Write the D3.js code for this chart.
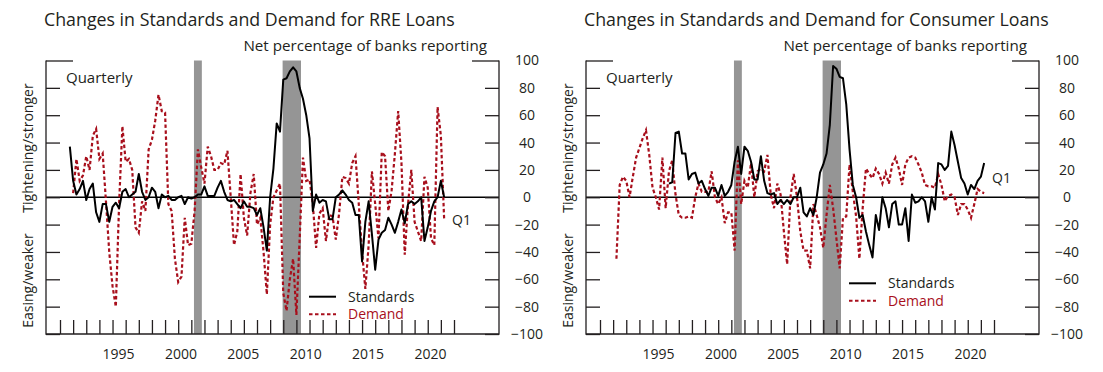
<!DOCTYPE html>
<html>
<head>
<meta charset="utf-8">
<script src="https://cdn.jsdelivr.net/npm/d3@7"></script>
<style>
  body { margin: 0; background: #fff; }
  text { font-family: "Open Sans", sans-serif; fill: #231f20; }
</style>
</head>
<body>
<svg id="chart" width="1103" height="372"></svg>
<script>
// first observation sits at this spot of the year scale, then one point per quarter
var firstQuarter = 1991.75;

var rreStandards = [37, 12, 2, 6, 12, -2, 6, 10, -11, -18,
  -5, -5, -18, -7, -4, -8, 4, 6, 0, 2,
  4, 17, 4, -2, 0, 7, 4, -8, 2, 0,
  1, -2, -2, 0, 1, -5, 0, -1, 0, 2,
  2, 8, 1, 1, 1, 7, 12, 4, -2, -3,
  -2, -5, -8, -3, -7, -7, -8, -13, -8, -22,
  -39, 0, 21, 54, 48, 86, 87, 92, 95, 92,
  80, 72, 60, 43, -10, 2, -4, -2, -3, -16,
  -16, 0, 2, 5, 2, -2, -4, -13, -13, -47,
  -18, -3, -27, -53, -31, -26, -24, -15, -20, -26,
  -18, -9, -19, -5, -3, -5, -3, 0, -32, -22,
  -10, -3, 0, 12, 0];

var rreDemand = [null, 3, 28, 12, 16, 30, 20, 45, 50, 28,
  32, -3, -40, -65, -80, -5, 52, 26, 28, 20,
  -22, -26, -3, -10, 35, 42, 56, 75, 63, 62,
  -5, -10, -45, -62, -58, -15, -35, -34, -10, 35,
  22, 10, 37, 30, 20, 20, 25, 24, 34, 0,
  -35, -25, 17, -15, -28, 3, 17, -20, -15, -40,
  -71, -20, 0, 5, 10, -70, -83, -60, -45, -86,
  -30, 29, 12, 13, -5, -37, -12, -8, -32, -13,
  -14, -31, -12, 15, 14, 10, 25, 30, -5, -40,
  -67, -35, 19, -5, -30, 33, 30, -10, 5, 32,
  63, 25, -42, -5, 20, -18, -25, -32, 15, 7,
  -30, -35, 66, 45, -16];

var consumerStandards = [null, null, null, null, null, null, null, null, null, null,
  null, null, null, null, null, null, null, null, 10, 11,
  47, 48, 32, 32, 13, 17, 18, 10, 12, 6,
  1, 7, 7, 1, 9, 1, 4, 9, 26, 37,
  17, 37, 34, 26, 13, 13, 30, 12, 3, 2,
  3, -5, -2, -5, -2, -5, 0, 0, 7, -11,
  -14, -8, -13, 0, 18, 24, 32, 53, 96, 94,
  88, 87, 68, 35, 9, 0, -15, -13, -25, -35,
  -44, -13, -24, 0, -8, -22, -5, -3, -20, -20,
  -8, -32, 2, -4, -3, 0, -3, -18, 0, -9,
  25, 24, 20, 23, 48, 38, 26, 14, 10, 2,
  9, 6, 12, 15, 25];

var consumerDemand = [null, null, -45, 9, 15, 12, 0, 15, 29, 36,
  43, 49, 31, 7, 0, -9, 29, -8, 19, 27,
  2, -13, -15, -15, -14, -15, 0, 10, 4, 4,
  4, 19, 0, -5, 0, -19, -11, -11, -39, 27,
  -5, 12, 7, 25, 0, 19, 21, 19, 31, 2,
  -8, 10, 2, -25, -49, 0, 17, 0, -25, -39,
  -39, -52, -5, -13, -22, -37, -13, 9, -8, -30,
  -52, -15, -14, 24, 4, -14, -45, -8, 21, 17,
  14, 21, 17, 10, 18, 10, 24, 29, 21, 9,
  24, 29, 30, 29, 24, 18, 9, 8, 8, 7,
  17, 9, -3, 1, 2, 0, -13, -5, -5, -9,
  -15, -5, 6, 4, 3];

var yearTicks = d3.range(1991, 2022);
var yearLabels = [1995, 2000, 2005, 2010, 2015, 2020];
var valueTicks = [-100, -80, -60, -40, -20, 0, 20, 40, 60, 80, 100];
var recessionStart = [2001.2, 2007.95];
var recessionEnd = [2001.8, 2009.35];

var red = "#a80f1c";
var ink = "#231f20";
var panelWidth = 453;

var svg = d3.select("#chart");

var x = d3.scaleLinear().domain([1991, 2021]).range([14, 408]);
// year labels in the original don't sit exactly under the year ticks
var xLabel = d3.scaleLinear().domain([1995, 2020]).range([72, 384]);
var y = d3.scaleLinear().domain([-100, 100]).range([334, 60.5]);

function drawPanel(left, title, standards, demand, q1, legendY) {
  var g = svg.append("g").attr("transform", "translate(" + left + ",0)");

  g.append("text")
      .attr("x", -2).attr("y", 26)
      .style("font-size", "17.8px")
      .text(title);

  g.append("text")
      .attr("x", 441).attr("y", 51)
      .attr("text-anchor", "end")
      .style("font-size", "15.2px")
      .text("Net percentage of banks reporting");

  //recession shading
  g.selectAll(".recession")
    .data(recessionStart)
    .enter().append("rect")
      .attr("x", function(d) { return x(d); })
      .attr("width", function(d, i) { return x(recessionEnd[i]) - x(d); })
      .attr("y", y(100))
      .attr("height", y(-100) - y(100))
      .attr("fill", "#959595");

  g.append("line")
      .attr("x1", 0).attr("x2", panelWidth)
      .attr("y1", y(0)).attr("y2", y(0))
      .attr("stroke", "#000").attr("stroke-width", 1.3);

  var line = d3.line()
      .defined(function(d) { return d != null; })
      .x(function(d, i) { return x(firstQuarter + i * 0.25); })
      .y(function(d) { return y(d); });

  g.append("path")
      .attr("d", line(demand))
      .attr("fill", "none")
      .attr("stroke", red)
      .attr("stroke-width", 2.2)
      .attr("stroke-dasharray", "3.5,2.5");

  g.append("path")
      .attr("d", line(standards))
      .attr("fill", "none")
      .attr("stroke", "#000")
      .attr("stroke-width", 2)
      .attr("stroke-linejoin", "round");

  //frame
  g.append("path")
      .attr("d", "M0," + y(100) + "V" + y(-100) + "H" + panelWidth + "V" + y(100))
      .attr("fill", "none")
      .attr("stroke", ink)
      .attr("stroke-width", 1.3);

  var leftTicks = g.append("g")
      .call(d3.axisRight(y).tickValues(valueTicks).tickSize(14).tickFormat(""));
  var rightTicks = g.append("g")
      .attr("transform", "translate(" + panelWidth + ",0)")
      .call(d3.axisLeft(y).tickValues(valueTicks).tickSize(14).tickFormat(""));
  [leftTicks, rightTicks].forEach(function(a) {
    a.select(".domain").remove();
    a.selectAll("line").attr("stroke", ink).attr("stroke-width", 1.3);
    a.selectAll(".tick").filter(function(d) { return d === 100; })
      .select("line").attr("x2", a === leftTicks ? 27 : -27);
  });

  var rightLabels = g.append("g")
      .attr("transform", "translate(" + panelWidth + ",0)")
      .call(d3.axisRight(y).tickValues(valueTicks).tickSize(0).tickPadding(28));
  rightLabels.select(".domain").remove();
  rightLabels.selectAll("text")
      .attr("text-anchor", "middle")
      .style("font-size", "14px")
      .style("font-family", "'Open Sans', sans-serif")
      .attr("fill", ink);

  var bottomTicks = g.append("g")
      .attr("transform", "translate(0," + y(-100) + ")")
      .call(d3.axisTop(x).tickValues(yearTicks).tickSize(14).tickFormat(""));
  bottomTicks.select(".domain").remove();
  bottomTicks.selectAll("line").attr("stroke", ink).attr("stroke-width", 1.3);

  var bottomLabels = g.append("g")
      .attr("transform", "translate(0," + y(-100) + ")")
      .call(d3.axisBottom(xLabel).tickValues(yearLabels).tickSize(0).tickPadding(15).tickFormat(d3.format("d")));
  bottomLabels.select(".domain").remove();
  bottomLabels.selectAll("text")
      .style("font-size", "14px")
      .style("font-family", "'Open Sans', sans-serif")
      .attr("fill", ink);

  g.append("text")
      .attr("x", 20).attr("y", 83)
      .style("font-size", "15px")
      .text("Quarterly");

  g.append("text")
      .attr("x", q1[0]).attr("y", q1[1])
      .style("font-size", "14px")
      .text("Q1");

  g.append("text")
      .attr("transform", "translate(-13,148) rotate(-90)")
      .attr("text-anchor", "middle")
      .style("font-size", "14px")
      .text("Tightening/stronger");
  g.append("text")
      .attr("transform", "translate(-13,280.5) rotate(-90)")
      .attr("text-anchor", "middle")
      .style("font-size", "14px")
      .text("Easing/weaker");

  //legend
  g.append("line")
      .attr("x1", 263).attr("x2", 290)
      .attr("y1", legendY).attr("y2", legendY)
      .attr("stroke", "#000").attr("stroke-width", 2);
  g.append("text")
      .attr("x", 302).attr("y", legendY + 5)
      .style("font-size", "14px")
      .text("Standards");
  g.append("line")
      .attr("x1", 263).attr("x2", 290)
      .attr("y1", legendY + 17.5).attr("y2", legendY + 17.5)
      .attr("stroke", red).attr("stroke-width", 2)
      .attr("stroke-dasharray", "3.5,2.5");
  g.append("text")
      .attr("x", 302).attr("y", legendY + 22.5)
      .style("font-size", "14px")
      .style("fill", red)
      .text("Demand");
}

drawPanel(46, "Changes in Standards and Demand for RRE Loans", rreStandards, rreDemand, [406, 225], 296.7);
drawPanel(586, "Changes in Standards and Demand for Consumer Loans", consumerStandards, consumerDemand, [406, 183], 283.3);
</script>
</body>
</html>
